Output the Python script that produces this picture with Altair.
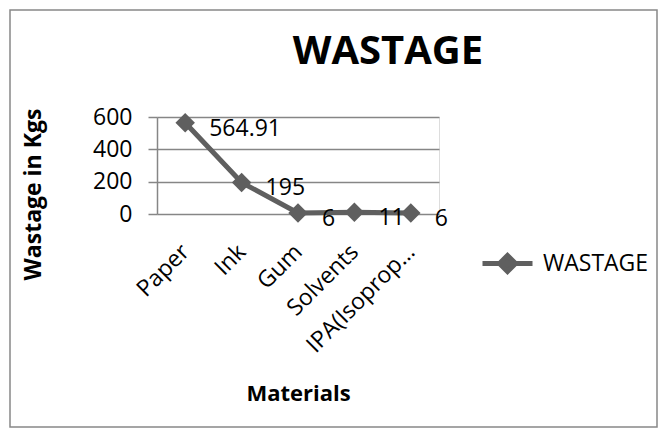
import altair as alt
import pandas as pd

materials = ["Paper", "Ink", "Gum", "Solvents", "IPA(Isoprop…"]
wastage = [564.91, 195, 6, 11, 6]
series = ["WASTAGE"] * len(materials)
y_ticks = [0, 200, 400, 600]

df = pd.DataFrame({"Materials": materials, "Wastage": wastage, "Series": series})

FONT = "Open Sans"
GREY = "#5f5f5f"
AXIS_GREY = "#868686"

x_enc = alt.X(
    "Materials:N",
    sort=materials,
    scale=alt.Scale(padding=0.5),
    axis=alt.Axis(
        title="Materials",
        offset=28,
        labelAngle=-45,
        labelAlign="right",
        labelBaseline="middle",
        labelFontSize=23,
        labelPadding=6,
        labelFont=FONT,
        labelColor="#000",
        labelLimit=300,
        labelOverlap=False,
        domain=False,
        ticks=False,
        grid=False,
        titleFont=FONT,
        titleFontSize=22,
        titleFontWeight="bold",
        titleColor="#000",
        titleX=141,
        titleY=151,
        titleBaseline="middle",
        titleAlign="center",
    ),
)
y_enc = alt.Y(
    "Wastage:Q",
    scale=alt.Scale(domain=[0, 600], nice=False),
    axis=alt.Axis(
        title="Wastage in Kgs",
        values=y_ticks,
        labelOverlap=False,
        labelFontSize=23,
        labelFont=FONT,
        labelColor="#000",
        labelPadding=16,
        tickSize=9,
        tickColor=AXIS_GREY,
        tickWidth=1.5,
        domainColor=AXIS_GREY,
        domainWidth=1.5,
        grid=True,
        gridColor=AXIS_GREY,
        gridWidth=1.5,
        titleFont=FONT,
        titleFontSize=23,
        titleFontWeight="bold",
        titleColor="#000",
        titleAngle=270,
        titleX=-124,
        titleY=77,
        titleBaseline="middle",
        titleAlign="center",
    ),
)

color_enc = alt.Color(
    "Series:N",
    scale=alt.Scale(range=[GREY]),
    legend=alt.Legend(
        title=None,
        orient="none",
        legendX=323,
        legendY=119,
        symbolType="M-1,0H1M-0.32,0L0,-0.32L0.32,0L0,0.32Z",
        symbolSize=2500,
        symbolStrokeWidth=5,
        symbolFillColor=GREY,
        symbolStrokeColor=GREY,
        labelFont=FONT,
        labelFontSize=23,
        labelColor="#000",
        labelOffset=8,
    ),
)

base = alt.Chart(df)

line = base.mark_line(
    strokeWidth=5,
    point=alt.OverlayMarkDef(shape="diamond", size=380, filled=True, color=GREY, opacity=1),
).encode(x=x_enc, y=y_enc, color=color_enc)

text = base.mark_text(
    align="left", baseline="middle", dx=24, dy=6, font=FONT, fontSize=23, color="#000"
).encode(x=x_enc, y=y_enc, text="Wastage:Q")

border = alt.Chart(pd.DataFrame({"b": [0]})).mark_rect(
    fill=None, stroke="#888888", strokeWidth=1.5
).encode(
    x=alt.value(-147), x2=alt.value(500), y=alt.value(-107), y2=alt.value(310)
)

chart = alt.layer(border, line, text).properties(
    width=282,
    height=97,
    autosize=alt.AutoSizeParams(type="none"),
    padding={"left": 149, "top": 109, "right": 220, "bottom": 215},
    title=alt.TitleParams(
        "WASTAGE",
        font=FONT,
        fontSize=40,
        fontWeight="bold",
        color="#000",
        anchor="middle",
        frame="group",
        baseline="alphabetic",
        dx=90,
        offset=0,
        dy=95,
    ),
).configure_view(stroke=None).configure(background="white")

chart.save("out.html", embed_options={"renderer": "svg", "actions": False})
